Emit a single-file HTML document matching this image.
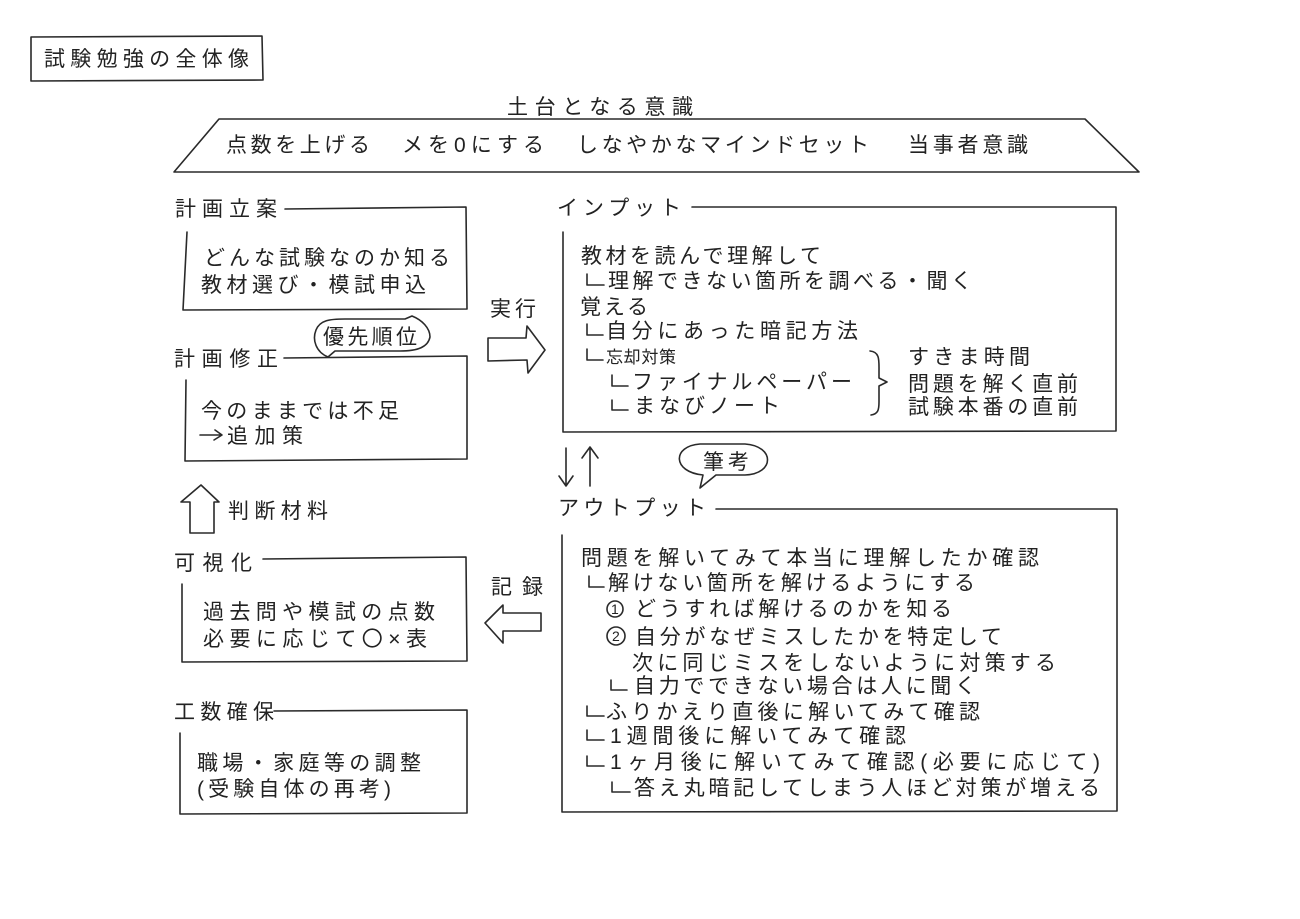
<!DOCTYPE html>
<html lang="ja"><head><meta charset="utf-8"><style>
html,body{margin:0;padding:0;background:#fff}
svg{display:block}
text{font-family:"Liberation Sans","WenQuanYi Zen Hei","Noto Sans CJK JP",sans-serif;font-size:21px;fill:#222}
.l{fill:none;stroke:#2a2a2a;stroke-width:1.6;stroke-linecap:round;stroke-linejoin:round}
</style></head><body>
<svg width="1300" height="919" viewBox="0 0 1300 919" xmlns="http://www.w3.org/2000/svg">
<rect width="1300" height="919" fill="#fff"/>
<path class="l" d="M31 37L262 36L263 80L31 81Z"/>
<text x="44" y="66" textLength="205">試験勉強の全体像</text>
<text x="507" y="114" textLength="186">土台となる意識</text>
<path class="l" d="M219 119L1085 119L1139 172L174 172Z"/>
<text x="226" y="152" textLength="144">点数を上げる</text>
<text x="402" y="152" textLength="142">メを0にする</text>
<text x="577" y="152" textLength="292">しなやかなマインドセット</text>
<text x="908" y="152" textLength="120">当事者意識</text>

<text x="175" y="216" textLength="102">計画立案</text>
<path class="l" d="M285 209L466 207L467 309L183 310L187 232"/>
<text x="204" y="265" textLength="246">どんな試験なのか知る</text>
<text x="201" y="292" textLength="225">教材選び・模試申込</text>

<path class="l" d="M328 357C316 352 312 340 316 330C320 320 330 319 345 319L405 319L412 316C422 320 430 328 430 337C428 347 418 351 400 351L335 351Z"/>
<text x="323" y="344" textLength="94">優先順位</text>
<text x="174" y="366" textLength="104">計画修正</text>
<path class="l" d="M284 358L467 356L467 459L185 461L186 380"/>
<text x="201" y="418" textLength="198">今のままでは不足</text>
<path class="l" d="M200 435L222 435M215 430L222 435L214 440"/>
<text x="227" y="443" textLength="76">追加策</text>

<path class="l" d="M190 533L190 502L181 502L201 485L219 502L214 502L214 533Z"/>
<text x="228" y="518" textLength="100">判断材料</text>
<text x="174" y="570" textLength="78">可視化</text>
<path class="l" d="M263 559L466 557L467 661L182 662L182 584"/>
<text x="203" y="619" textLength="232">過去問や模試の点数</text>
<text x="203" y="646" textLength="224">必要に応じて〇×表</text>

<text x="174" y="719" textLength="100">工数確保</text>
<path class="l" d="M274 711L467 710L467 813L180 814L180 733"/>
<text x="197" y="770" textLength="224">職場・家庭等の調整</text>
<text x="197" y="796" textLength="194">(受験自体の再考)</text>

<text x="490" y="316" textLength="46">実行</text>
<path class="l" d="M488 338L526 338L527 326L545 350L528 373L527 360L488 361Z"/>
<text x="491" y="594" textLength="52">記録</text>
<path class="l" d="M541 613L503 613L503 605L485 623L503 643L503 631L541 631Z"/>

<text x="557" y="215" textLength="124">インプット</text>
<path class="l" d="M692 207L1116 207L1116 431L563 432L563 232"/>
<text x="581" y="263" textLength="240">教材を読んで理解して</text>
<path class="l" d="M587 274L587 285L604 285"/>
<text x="608" y="288" textLength="364">理解できない箇所を調べる・聞く</text>
<text x="580" y="314" textLength="68">覚える</text>
<path class="l" d="M587 324L587 335L603 335"/>
<text x="606" y="338" textLength="252">自分にあった暗記方法</text>
<path class="l" d="M587 349L587 360L603 360"/>
<text x="606" y="363" textLength="70" style="font-size:17px">忘却対策</text>
<path class="l" d="M612 375L612 386L628 386"/>
<text x="632" y="389" textLength="220">ファイナルペーパー</text>
<path class="l" d="M612 400L612 410L628 410"/>
<text x="634" y="413" textLength="146">まなびノート</text>
<path class="l" d="M870 351C880 352 879 360 879 372L879 378L887 382L879 386L879 402C879 410 878 414 871 415"/>
<text x="908" y="364" textLength="122">すきま時間</text>
<text x="908" y="391" textLength="170">問題を解く直前</text>
<text x="908" y="414" textLength="170">試験本番の直前</text>

<path class="l" d="M566 448L566 486M559 476L566 486L573 476M590 486L590 447M582 458L590 447L598 458"/>
<path class="l" d="M703 475C672 472 672 446 700 444L745 444C775 446 775 474 745 475L716 475L700 488Z"/>
<text x="703" y="469" textLength="46">筆考</text>

<text x="558" y="515" textLength="148">アウトプット</text>
<path class="l" d="M716 509L1117 509L1117 811L562 812L562 535"/>
<text x="581" y="565" textLength="458">問題を解いてみて本当に理解したか確認</text>
<path class="l" d="M589 576L589 587L604 587"/>
<text x="608" y="590" textLength="367">解けない箇所を解けるようにする</text>
<circle class="l" cx="615" cy="609" r="8"/>
<text x="611" y="614" style="font-size:14px">1</text>
<text x="635" y="616" textLength="317">どうすれば解けるのかを知る</text>
<circle class="l" cx="616" cy="636" r="9"/>
<text x="612" y="641" style="font-size:14px">2</text>
<text x="635" y="644" textLength="367">自分がなぜミスしたかを特定して</text>
<text x="632" y="670" textLength="424">次に同じミスをしないように対策する</text>
<path class="l" d="M611 680L611 690L627 690"/>
<text x="634" y="693" textLength="342">自力でできない場合は人に聞く</text>
<path class="l" d="M587 706L587 716L604 716"/>
<text x="606" y="719" textLength="374">ふりかえり直後に解いてみて確認</text>
<path class="l" d="M587 730L587 740L604 740"/>
<text x="610" y="743" textLength="296">1週間後に解いてみて確認</text>
<path class="l" d="M587 756L587 766L604 766"/>
<text x="610" y="769" textLength="490">1ヶ月後に解いてみて確認(必要に応じて)</text>
<path class="l" d="M612 782L612 792L630 792"/>
<text x="634" y="795" textLength="466">答え丸暗記してしまう人ほど対策が増える</text>
</svg>
</body></html>
